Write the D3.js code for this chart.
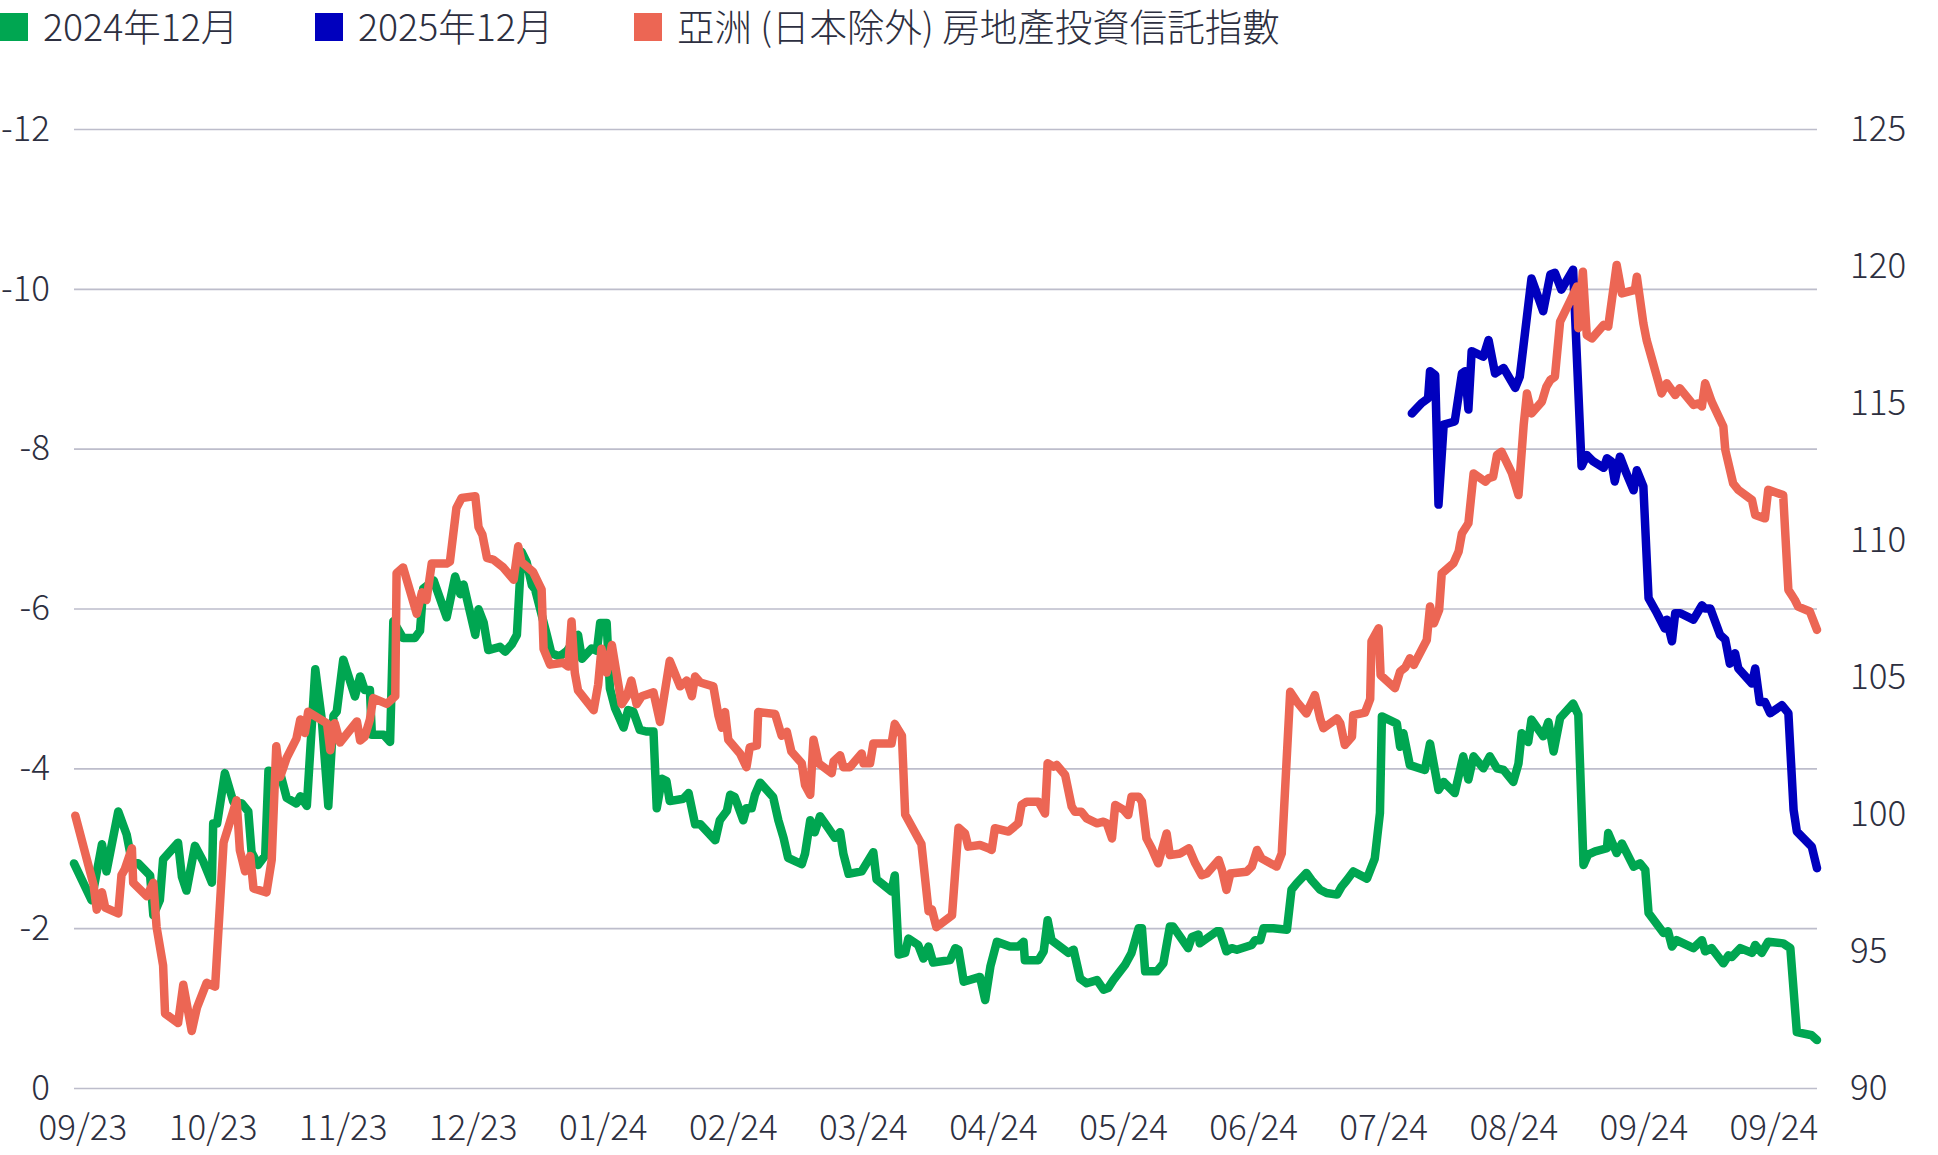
<!DOCTYPE html>
<html>
<head>
<meta charset="utf-8">
<script src="https://cdn.jsdelivr.net/npm/d3@7"></script>
<style>
  body { margin: 0; background: #fff; }
</style>
</head>
<body>
<div id="chart"></div>
<script>
const WIDTH = 1938;
const HEIGHT = 1155;
const MARGIN = { top: 129, left: 74, right: 121, bottom: 67 };

// trading-day index along the x axis (0 .. 268)
const DAY_DOMAIN = [0, 268];
const monthTickDays = [1.3, 21.3, 41.3, 61.3, 81.3, 101.3, 121.3, 141.3, 161.3, 181.3, 201.3, 221.3, 241.3, 261.3];
const monthLabels = ["09/23", "10/23", "11/23", "12/23", "01/24", "02/24", "03/24", "04/24", "05/24", "06/24", "07/24", "08/24", "09/24", "09/24"];

const leftTicks = [0, -2, -4, -6, -8, -10, -12];
const rightTicks = [90, 95, 100, 105, 110, 115, 120, 125];

const legendNames = ["2024年12月", "2025年12月", "亞洲 (日本除外) 房地產投資信託指數"];
const colors = ["#00a651", "#0000be", "#ec6654"];

// [day, value] left axis
const dec2024 = [
  [0,-2.81],[2.7,-2.35],[4.3,-3.05],[5,-2.71],[6.8,-3.46],[8.1,-3.17],[8.9,-2.83],[9.9,-2.81],[11.7,-2.66],[12.2,-2.16],
  [13.2,-2.35],[13.7,-2.86],[16,-3.07],[16.6,-2.64],[17.3,-2.47],[18.6,-3.03],[19.9,-2.83],[21.2,-2.57],[21.4,-3.31],[22,-3.31],
  [23.2,-3.94],[24.5,-3.58],[25.8,-3.56],[26.8,-3.46],[27.3,-2.95],[28.3,-2.79],[29.4,-2.91],[29.9,-3.97],[31.7,-3.94],[32.7,-3.63],
  [34.2,-3.56],[34.8,-3.65],[35.8,-3.53],[37.1,-5.24],[38.1,-4.61],[39.1,-3.53],[39.9,-4.66],[40.4,-4.71],[41.4,-5.36],[43.2,-4.9],
  [44,-5.15],[44.7,-4.98],[45.5,-4.98],[45.8,-4.42],[47.6,-4.42],[48.6,-4.33],[49.1,-5.84],[50.6,-5.63],[52.4,-5.63],[53.2,-5.72],
  [53.7,-6.25],[55.3,-6.35],[57.3,-5.89],[58.6,-6.4],[59.4,-6.18],[59.9,-6.3],[61.7,-5.67],[62.2,-5.99],[63,-5.82],[63.7,-5.48],
  [65.5,-5.52],[66.3,-5.46],[67.3,-5.55],[68.1,-5.67],[68.8,-6.71],[69.6,-6.58],[70.4,-6.29],[70.9,-6.24],[72.7,-5.67],[73.4,-5.44],
  [74.7,-5.4],[75.8,-5.47],[77.5,-5.67],[78.1,-5.37],[79.6,-5.5],[80.4,-5.47],[80.9,-5.82],[81.9,-5.82],[82.4,-5],[83.2,-4.75],
  [84.5,-4.51],[85.2,-4.73],[86,-4.71],[87,-4.48],[88.1,-4.46],[89.1,-4.46],[89.6,-3.5],[90.4,-3.87],[91.1,-3.84],[91.6,-3.59],
  [93.7,-3.62],[94.5,-3.69],[95.5,-3.3],[96.3,-3.3],[98.6,-3.1],[99.3,-3.35],[100.4,-3.47],[100.9,-3.67],[101.6,-3.64],[102.9,-3.35],
  [103.4,-3.5],[104.2,-3.5],[104.7,-3.67],[105.5,-3.82],[107.5,-3.64],[108.3,-3.35],[109.1,-3.13],[109.8,-2.88],[111.9,-2.8],[112.4,-2.93],
  [113.2,-3.35],[113.9,-3.2],[114.7,-3.4],[116,-3.25],[117,-3.13],[117.8,-3.2],[118.3,-2.93],[119.1,-2.68],[121.1,-2.71],[122.9,-2.95],
  [123.4,-2.61],[125.7,-2.46],[126.2,-2.66],[126.8,-1.67],[127.8,-1.69],[128.3,-1.87],[129.8,-1.79],[130.6,-1.62],[131.4,-1.77],[132.1,-1.57],
  [134.7,-1.6],[135.5,-1.75],[136,-1.73],[136.8,-1.33],[139.3,-1.39],[140.1,-1.1],[140.9,-1.52],[141.9,-1.83],[143.9,-1.77],[145.2,-1.77],
  [146,-1.83],[146.2,-1.6],[148.3,-1.6],[149.1,-1.71],[149.7,-2.1],[150.3,-1.85],[152.9,-1.69],[153.7,-1.73],[154.7,-1.37],[155.7,-1.31],
  [157.3,-1.35],[158.3,-1.23],[159,-1.25],[159.8,-1.35],[161.6,-1.54],[162.6,-1.69],[163.7,-2],[164.2,-2],[164.7,-1.46],[166.5,-1.46],
  [167.5,-1.56],[168.5,-2.02],[169,-2.02],[170.1,-1.89],[171.3,-1.75],[171.9,-1.89],[172.9,-1.92],[173.1,-1.81],[175.7,-1.96],[176.2,-1.96],
  [177.2,-1.71],[178,-1.75],[178.8,-1.73],[181.1,-1.79],[181.6,-1.85],[182.4,-1.85],[182.9,-2],[184.4,-2],[186.5,-1.98],[187.2,-2.48],
  [188,-2.56],[189.5,-2.69],[190.3,-2.6],[191.6,-2.48],[192.6,-2.44],[194.2,-2.42],[194.9,-2.52],[195.7,-2.6],[196.7,-2.71],[198.8,-2.62],
  [200,-2.87],[200.8,-3.44],[201.1,-4.65],[203.4,-4.56],[203.9,-4.27],[204.4,-4.44],[205.4,-4.04],[207.7,-3.98],[208.5,-4.31],[209.8,-3.73],
  [210.6,-3.83],[212.3,-3.69],[213.6,-4.15],[214.4,-3.86],[215.2,-4.15],[216.7,-4],[217.7,-4.15],[218.8,-4],[219.8,-3.98],[221.3,-3.83],
  [222.1,-4.06],[222.6,-4.44],[223.6,-4.33],[224.1,-4.61],[225.9,-4.4],[226.7,-4.58],[227.5,-4.21],[228.5,-4.63],[230.5,-4.81],[231.3,-4.67],
  [232.1,-2.79],[232.8,-2.92],[233.9,-2.96],[235.7,-3],[235.9,-3.19],[237.2,-2.94],[238,-3.06],[239.8,-2.77],[240.8,-2.81],[241.6,-2.73],
  [242.1,-2.19],[244.4,-1.94],[245.1,-1.96],[245.7,-1.77],[246.4,-1.85],[249,-1.75],[250.3,-1.85],[250.8,-1.71],[251.8,-1.75],[253.6,-1.56],
  [254.4,-1.66],[254.9,-1.64],[256.2,-1.75],[258,-1.69],[258.5,-1.79],[259.5,-1.69],[260.5,-1.83],[262.8,-1.81],[263.9,-1.75],[264.9,-0.7],
  [267.2,-0.66],[268,-0.6]
];

// [day, value] left axis
const dec2025 = [
  [205.7,-8.44],[207.2,-8.57],[208.2,-8.63],[208.5,-8.97],[209.3,-8.92],[209.8,-7.3],[210.6,-8.3],[212.3,-8.34],[213.4,-8.94],[213.9,-8.97],
  [214.4,-8.49],[214.9,-9.22],[216.7,-9.15],[217.5,-9.36],[218.5,-8.94],[219.8,-9.01],[221.6,-8.76],[222.3,-8.9],[224.1,-10.13],[225.9,-9.72],
  [227,-10.18],[227.7,-10.2],[228.7,-9.99],[230.5,-10.24],[231.8,-7.78],[232.6,-7.92],[233.6,-7.84],[235.2,-7.76],[235.7,-7.88],[236.4,-7.84],
  [236.9,-7.59],[237.7,-7.9],[238.7,-7.69],[239.8,-7.48],[240.3,-7.73],[241.3,-7.53],[242.1,-6.13],[243.4,-5.94],[244.6,-5.75],[244.9,-5.86],
  [245.7,-5.59],[246.2,-5.94],[247,-5.94],[249,-5.86],[250.3,-6.04],[250.8,-6],[251.6,-6],[253.1,-5.67],[253.9,-5.61],[254.6,-5.31],
  [255.4,-5.44],[255.9,-5.25],[258,-5.06],[258.5,-5.25],[259.2,-4.83],[260,-4.83],[260.8,-4.69],[262.6,-4.79],[263.6,-4.69],[264.4,-3.48],
  [264.9,-3.21],[267.2,-3.02],[268,-2.75]
];

// [day, value] right axis
const reitIndex = [
  [0.2,99.94],[3,97.42],[3.5,96.51],[4.3,97.14],[4.8,96.58],[6.8,96.37],[7.3,97.77],[7.8,97.98],[8.9,98.75],[9.1,97.49],
  [11.2,97],[12.2,97.49],[12.7,95.87],[13.7,94.47],[14,92.72],[16,92.37],[16.8,93.77],[18.1,92.08],[18.9,92.93],[20.4,93.84],
  [21.7,93.7],[23,98.96],[24,99.73],[25,100.5],[25.5,98.68],[26.3,97.91],[27.1,98.47],[27.6,97.28],[29.6,97.14],[30.4,98.33],
  [31.1,102.47],[31.7,101.35],[32.7,102.05],[34.2,102.75],[34.8,103.45],[35.5,102.96],[36,103.73],[38.9,103.31],[39.4,102.33],[40.1,103.31],
  [40.9,102.61],[43.5,103.38],[44,102.68],[44.7,102.82],[45.5,103.45],[46,104.23],[48.1,104.02],[49.4,104.3],[49.6,108.79],[50.6,109],
  [52.7,107.31],[53.5,108.09],[54.2,107.81],[55,109.14],[57.3,109.14],[57.8,109.21],[58.8,111.17],[59.6,111.53],[61.7,111.6],[62.2,110.47],
  [62.8,110.19],[63.5,109.35],[64.5,109.28],[66,109],[67.6,108.55],[68.3,109.77],[68.8,109.2],[70.6,108.83],[71.9,108.19],[72.2,106.03],
  [73.2,105.45],[75.2,105.52],[76,105.38],[76.5,107.03],[77,105.16],[77.5,104.51],[79.9,103.79],[80.6,104.73],[81.1,106.03],[81.9,105.16],
  [82.7,106.17],[84.2,104.01],[85,104.3],[85.7,104.87],[86.5,104.01],[87.3,104.3],[89.1,104.44],[90.1,103.36],[91.6,105.59],[93.2,104.66],
  [94.2,104.87],[95,104.3],[95.5,105.02],[96.3,104.8],[98.3,104.66],[99.1,103.58],[99.6,103.15],[100.1,103.72],[100.6,102.71],[102.4,102.21],
  [103.4,101.71],[103.9,102.43],[105,102.5],[105.2,103.72],[107.8,103.65],[108.8,102.86],[109.6,103],[110.3,102.28],[111.9,101.85],[112.4,101.06],
  [113.2,100.7],[113.7,102.71],[114.5,101.85],[116.5,101.49],[116.8,101.92],[117.8,102.14],[118.3,101.71],[119.3,101.71],[121.1,102.21],[121.4,101.85],
  [122.4,101.85],[122.9,102.57],[125.7,102.57],[126.2,103.29],[127.3,102.86],[127.8,99.98],[130.3,98.9],[131.4,96.45],[131.9,96.52],[132.6,95.87],
  [135,96.3],[136,99.5],[137,99.29],[137.5,98.81],[139.3,98.87],[140.6,98.75],[141.1,98.69],[141.6,99.48],[143.7,99.36],[145.2,99.66],
  [145.7,100.33],[146.5,100.45],[148.3,100.45],[149.3,100.02],[149.7,101.85],[150.6,101.73],[151.1,101.79],[152.4,101.42],[153.4,100.27],[153.9,100.08],
  [154.9,100.08],[155.7,99.84],[157.3,99.66],[158.3,99.72],[158.8,99.66],[159.6,99.11],[160.1,100.33],[161.4,100.15],[162.1,99.96],[162.6,100.63],
  [163.7,100.63],[164.2,100.45],[164.9,99.11],[165.7,98.75],[166.7,98.2],[168,99.29],[168.5,98.5],[170.1,98.56],[171.4,98.75],[172.4,98.2],
  [173.4,97.77],[174.2,97.83],[176,98.32],[176.5,97.96],[177.2,97.23],[177.8,97.83],[180.3,97.89],[181.1,98.08],[181.9,98.69],[182.6,98.38],
  [184.9,98.08],[185.7,98.56],[187,104.46],[188,104.1],[189.5,103.67],[190.8,104.34],[191.6,103.49],[192.1,103.13],[194.2,103.49],[194.7,103.31],
  [195.4,102.52],[196.5,102.82],[196.7,103.61],[198.5,103.7],[199.3,104.2],[199.5,106.3],[200.6,106.78],[200.9,105.07],[203.1,104.59],[203.9,105.2],
  [204.7,105.35],[205.4,105.68],[206,105.44],[208,106.35],[208.5,107.57],[209.1,106.96],[209.9,107.45],[210.3,108.78],[212.1,109.15],[212.9,109.58],
  [213.4,110.24],[214.4,110.61],[215.2,112.43],[217,112.13],[217.5,112.25],[218.2,112.31],[218.8,113.1],[219.5,113.22],[221.1,112.43],[222.1,111.64],
  [222.9,114.2],[223.4,115.35],[224.1,114.62],[225.7,115.05],[226.4,115.6],[227,115.84],[227.7,115.96],[228.5,117.97],[230,118.7],[231.1,119.25],
  [231.3,117.73],[232,119.79],[232.6,117.48],[233.4,117.36],[235.2,117.85],[235.9,117.79],[237.2,120.04],[238,119],[240,119.13],[240.3,119.61],
  [241.3,117.91],[241.8,117.3],[244.1,115.35],[244.9,115.72],[246.2,115.29],[246.9,115.54],[249,114.93],[249.8,114.99],[250.3,114.87],[250.8,115.72],
  [251.8,115.05],[253.6,114.14],[253.9,113.29],[255.1,112.07],[255.9,111.83],[258,111.46],[258.5,110.91],[260,110.79],[260.5,111.83],[262.8,111.64],
  [263.6,108.18],[264.6,107.81],[265.1,107.57],[266.9,107.39],[268,106.72]
];

const TEXT_COLOR = "#2d2f40";
const GRID_COLOR = "#bdbdcb";
const FONT = "'Noto Sans CJK JP', 'Noto Sans CJK TC', sans-serif";

const svg = d3.select("#chart").append("svg")
  .attr("width", WIDTH)
  .attr("height", HEIGHT)
  .style("background-color", "#fff");

const x = d3.scaleLinear()
  .domain(DAY_DOMAIN)
  .range([MARGIN.left, WIDTH - MARGIN.right]);

const yLeft = d3.scaleLinear()
  .domain([0, -12])
  .range([HEIGHT - MARGIN.bottom, MARGIN.top]);

const yRight = d3.scaleLinear()
  .domain([90, 125])
  .range([HEIGHT - MARGIN.bottom, MARGIN.top]);

const styleText = g => g.selectAll("text")
  .attr("fill", TEXT_COLOR)
  .attr("font-size", 35)
  .attr("font-weight", 300)
  .attr("font-family", FONT);

// gridlines (left axis ticks)
svg.append("g")
  .attr("transform", `translate(${MARGIN.left}, 0)`)
  .call(d3.axisRight(yLeft)
    .tickValues(leftTicks)
    .tickSize(WIDTH - MARGIN.left - MARGIN.right)
    .tickFormat(""))
  .call(g => g.select(".domain").remove())
  .call(g => g.selectAll("line")
    .attr("stroke", GRID_COLOR)
    .attr("stroke-width", 1.6));

// left axis labels
svg.append("g")
  .attr("transform", `translate(${MARGIN.left}, 0)`)
  .call(d3.axisLeft(yLeft)
    .tickValues(leftTicks)
    .tickSize(0)
    .tickPadding(24)
    .tickFormat(d => d === 0 ? "0" : "-" + Math.abs(d)))
  .call(g => g.select(".domain").remove())
  .call(styleText);

// right axis labels
svg.append("g")
  .attr("transform", `translate(${WIDTH - MARGIN.right}, 0)`)
  .call(d3.axisRight(yRight)
    .tickValues(rightTicks)
    .tickSize(0)
    .tickPadding(33))
  .call(g => g.select(".domain").remove())
  .call(styleText);

// x axis labels
svg.append("g")
  .attr("transform", `translate(0, ${HEIGHT - MARGIN.bottom})`)
  .call(d3.axisBottom(x)
    .tickValues(monthTickDays)
    .tickSize(0)
    .tickPadding(27)
    .tickFormat((d, i) => monthLabels[i]))
  .call(g => g.select(".domain").remove())
  .call(styleText);

// lines
const lineLeft = d3.line()
  .x(d => x(d[0]))
  .y(d => yLeft(d[1]));

const lineRight = d3.line()
  .x(d => x(d[0]))
  .y(d => yRight(d[1]));

const seriesList = [
  { data: dec2024, line: lineLeft, color: colors[0] },
  { data: dec2025, line: lineLeft, color: colors[1] },
  { data: reitIndex, line: lineRight, color: colors[2] },
];

svg.append("g")
  .selectAll("path")
  .data(seriesList)
  .join("path")
    .attr("d", d => d.line(d.data))
    .attr("fill", "none")
    .attr("stroke", d => d.color)
    .attr("stroke-width", 8.5)
    .attr("stroke-linejoin", "round")
    .attr("stroke-linecap", "round");

// legend
const legendX = [0, 315, 634];

const legend = svg.append("g")
  .selectAll("g")
  .data(legendNames)
  .join("g")
    .attr("transform", (d, i) => `translate(${legendX[i]}, 13)`);

legend.append("rect")
  .attr("width", 28)
  .attr("height", 28)
  .attr("fill", (d, i) => colors[i]);

legend.append("text")
  .attr("x", 43)
  .attr("y", 28)
  .attr("fill", TEXT_COLOR)
  .attr("font-size", 37.5)
  .attr("font-weight", 300)
  .attr("font-family", FONT)
  .text(d => d);
</script>
</body>
</html>
